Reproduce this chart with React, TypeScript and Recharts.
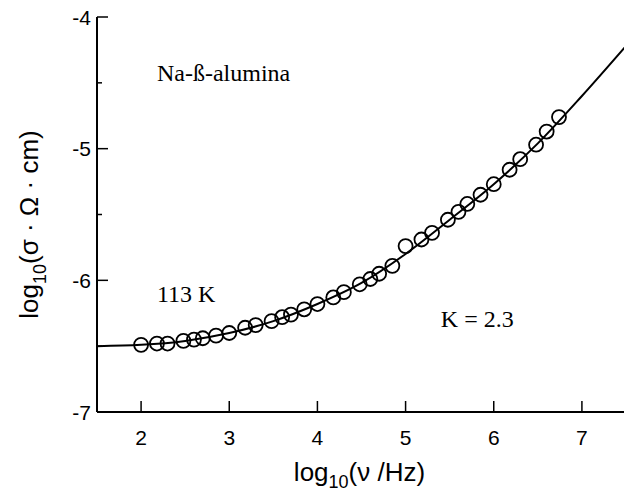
import { ComposedChart, Label, Line, ReferenceDot, Scatter, XAxis, YAxis } from "recharts";

// measured conductivity, log10(nu/Hz) vs log10(sigma * Ohm * cm)
const freqLog = [
  2.0, 2.18, 2.3, 2.48, 2.6, 2.7, 2.85, 3.0, 3.18, 3.3, 3.48, 3.6, 3.7, 3.85,
  4.0, 4.18, 4.3, 4.48, 4.6, 4.7, 4.85, 5.0, 5.18, 5.3, 5.48, 5.6, 5.7, 5.85,
  6.0, 6.18, 6.3, 6.48, 6.6, 6.74,
];
const sigmaLog = [
  -6.49, -6.48, -6.48, -6.46, -6.45, -6.44, -6.42, -6.4, -6.36, -6.34, -6.31,
  -6.28, -6.26, -6.22, -6.18, -6.13, -6.09, -6.03, -5.99, -5.95, -5.89, -5.74,
  -5.69, -5.64, -5.54, -5.48, -5.42, -5.35, -5.27, -5.16, -5.08, -4.97, -4.87,
  -4.76,
];

// fitted curve
const fitFreqLog = [1.5, 2, 2.5, 3, 3.5, 4, 4.5, 5, 5.5, 6, 6.5, 7, 7.5];
const fitSigmaLog = [
  -6.5, -6.49, -6.46, -6.4, -6.31, -6.18, -6.02, -5.8, -5.54, -5.27, -4.96,
  -4.6, -4.22,
];

const xTicks = [2, 3, 4, 5, 6, 7];
const yTicks = [-7, -6.5, -6, -5.5, -5, -4.5, -4];

const points = freqLog.map((x, i) => ({ x, y: sigmaLog[i] }));
const fit = fitFreqLog.map((x, i) => ({ x, y: fitSigmaLog[i] }));

const SANS = "'Liberation Sans', Arial, sans-serif";
const SERIF = "'Liberation Serif', 'Times New Roman', serif";
const MAJOR = 11;
const MINOR = 5;

const BottomTick = ({ x, y, payload }: any) => (
  <g>
    <line x1={x} x2={x} y1={y} y2={y - MAJOR} stroke="#000" strokeWidth={1.5} />
    <text x={x} y={y + 33} textAnchor="middle" fontSize={21} fontFamily={SANS} fill="#000">
      {payload.value}
    </text>
  </g>
);

const TopTick = ({ x, y }: any) => (
  <line x1={x} x2={x} y1={y} y2={y + MAJOR} stroke="#000" strokeWidth={1.5} />
);

const LeftTick = ({ x, y, payload }: any) => {
  const major = Number.isInteger(payload.value);
  return (
    <g>
      <line x1={x} x2={x + (major ? MAJOR : MINOR)} y1={y} y2={y} stroke="#000" strokeWidth={1.5} />
      {major && (
        <text x={x - 6} y={y} dy="0.36em" textAnchor="end" fontSize={21} fontFamily={SANS} fill="#000">
          {payload.value}
        </text>
      )}
    </g>
  );
};

const RightTick = ({ x, y, payload }: any) => {
  const major = Number.isInteger(payload.value);
  return <line x1={x} x2={x - (major ? MAJOR : MINOR)} y1={y} y2={y} stroke="#000" strokeWidth={1.5} />;
};

const Ring = ({ cx, cy }: any) => (
  <circle cx={cx} cy={cy} r={7} fill="none" stroke="#000" strokeWidth={1.8} />
);

const XTitle = ({ viewBox }: any) => {
  const cx = viewBox.x + viewBox.width / 2 - 2;
  return (
    <text x={cx} y={viewBox.y + 69} textAnchor="middle" fontSize={26} fontFamily={SANS} fill="#000">
      <tspan>log</tspan>
      <tspan dy={7} fontSize={18}>10</tspan>
      <tspan dy={-7}>(ν /Hz)</tspan>
    </text>
  );
};

const YTitle = ({ viewBox }: any) => {
  const cx = 38;
  const cy = viewBox.y + viewBox.height / 2 + 10;
  return (
    <text
      x={cx}
      y={cy}
      transform={`rotate(-90, ${cx}, ${cy})`}
      textAnchor="middle"
      fontSize={26}
      fontFamily={SANS}
      fill="#000"
    >
      <tspan>log</tspan>
      <tspan dy={8} fontSize={18}>10</tspan>
      <tspan dy={-8}>(σ · Ω · cm)</tspan>
    </text>
  );
};

const note = (text: string) => ({ viewBox }: any) => (
  <text x={viewBox.x} y={viewBox.y} fontSize={24} fontFamily={SERIF} fill="#000">
    {text}
  </text>
);

export default function App() {
  return (
    <div style={{ position: "absolute", left: 0, top: 0, width: 624, height: 491, overflow: "hidden", background: "#fff" }}>
      <ComposedChart width={630} height={491} margin={{ top: 17, right: 4, bottom: 0, left: 0 }}>
        <XAxis
          xAxisId={0}
          type="number"
          dataKey="x"
          domain={[1.5, 7.5]}
          ticks={xTicks}
          height={79}
          tickSize={0}
          tickMargin={0}
          tickLine={false}
          tick={<BottomTick />}
          axisLine={{ stroke: "#000", strokeWidth: 2 }}
          allowDataOverflow
        >
          <Label content={<XTitle />} />
        </XAxis>
        <XAxis
          xAxisId="top"
          orientation="top"
          type="number"
          dataKey="x"
          domain={[1.5, 7.5]}
          ticks={xTicks}
          height={0}
          tickSize={0}
          tickMargin={0}
          tickLine={false}
          tick={<TopTick />}
          axisLine={{ stroke: "#000", strokeWidth: 2 }}
          allowDataOverflow
        />
        <YAxis
          yAxisId={0}
          type="number"
          domain={[-7, -4]}
          ticks={yTicks}
          width={97}
          tickSize={0}
          tickMargin={0}
          tickLine={false}
          tick={<LeftTick />}
          axisLine={{ stroke: "#000", strokeWidth: 2 }}
          allowDataOverflow
        >
          <Label content={<YTitle />} />
        </YAxis>
        <YAxis
          yAxisId="right"
          orientation="right"
          type="number"
          domain={[-7, -4]}
          ticks={yTicks}
          width={0}
          tickSize={0}
          tickMargin={0}
          tickLine={false}
          tick={<RightTick />}
          axisLine={{ stroke: "#000", strokeWidth: 2 }}
          allowDataOverflow
        />
        <Line
          data={fit}
          dataKey="y"
          type="monotone"
          stroke="#000"
          strokeWidth={2}
          dot={false}
          isAnimationActive={false}
        />
        <Scatter data={points} dataKey="y" shape={<Ring />} isAnimationActive={false} />
        <ReferenceDot x={2.18} y={-4.486} r={0} fill="none" stroke="none" label={{ content: note("Na-ß-alumina") } as any} />
        <ReferenceDot x={2.18} y={-6.165} r={0} fill="none" stroke="none" label={{ content: note("113 K") } as any} />
        <ReferenceDot x={5.4} y={-6.354} r={0} fill="none" stroke="none" label={{ content: note("K = 2.3") } as any} />
      </ComposedChart>
    </div>
  );
}
